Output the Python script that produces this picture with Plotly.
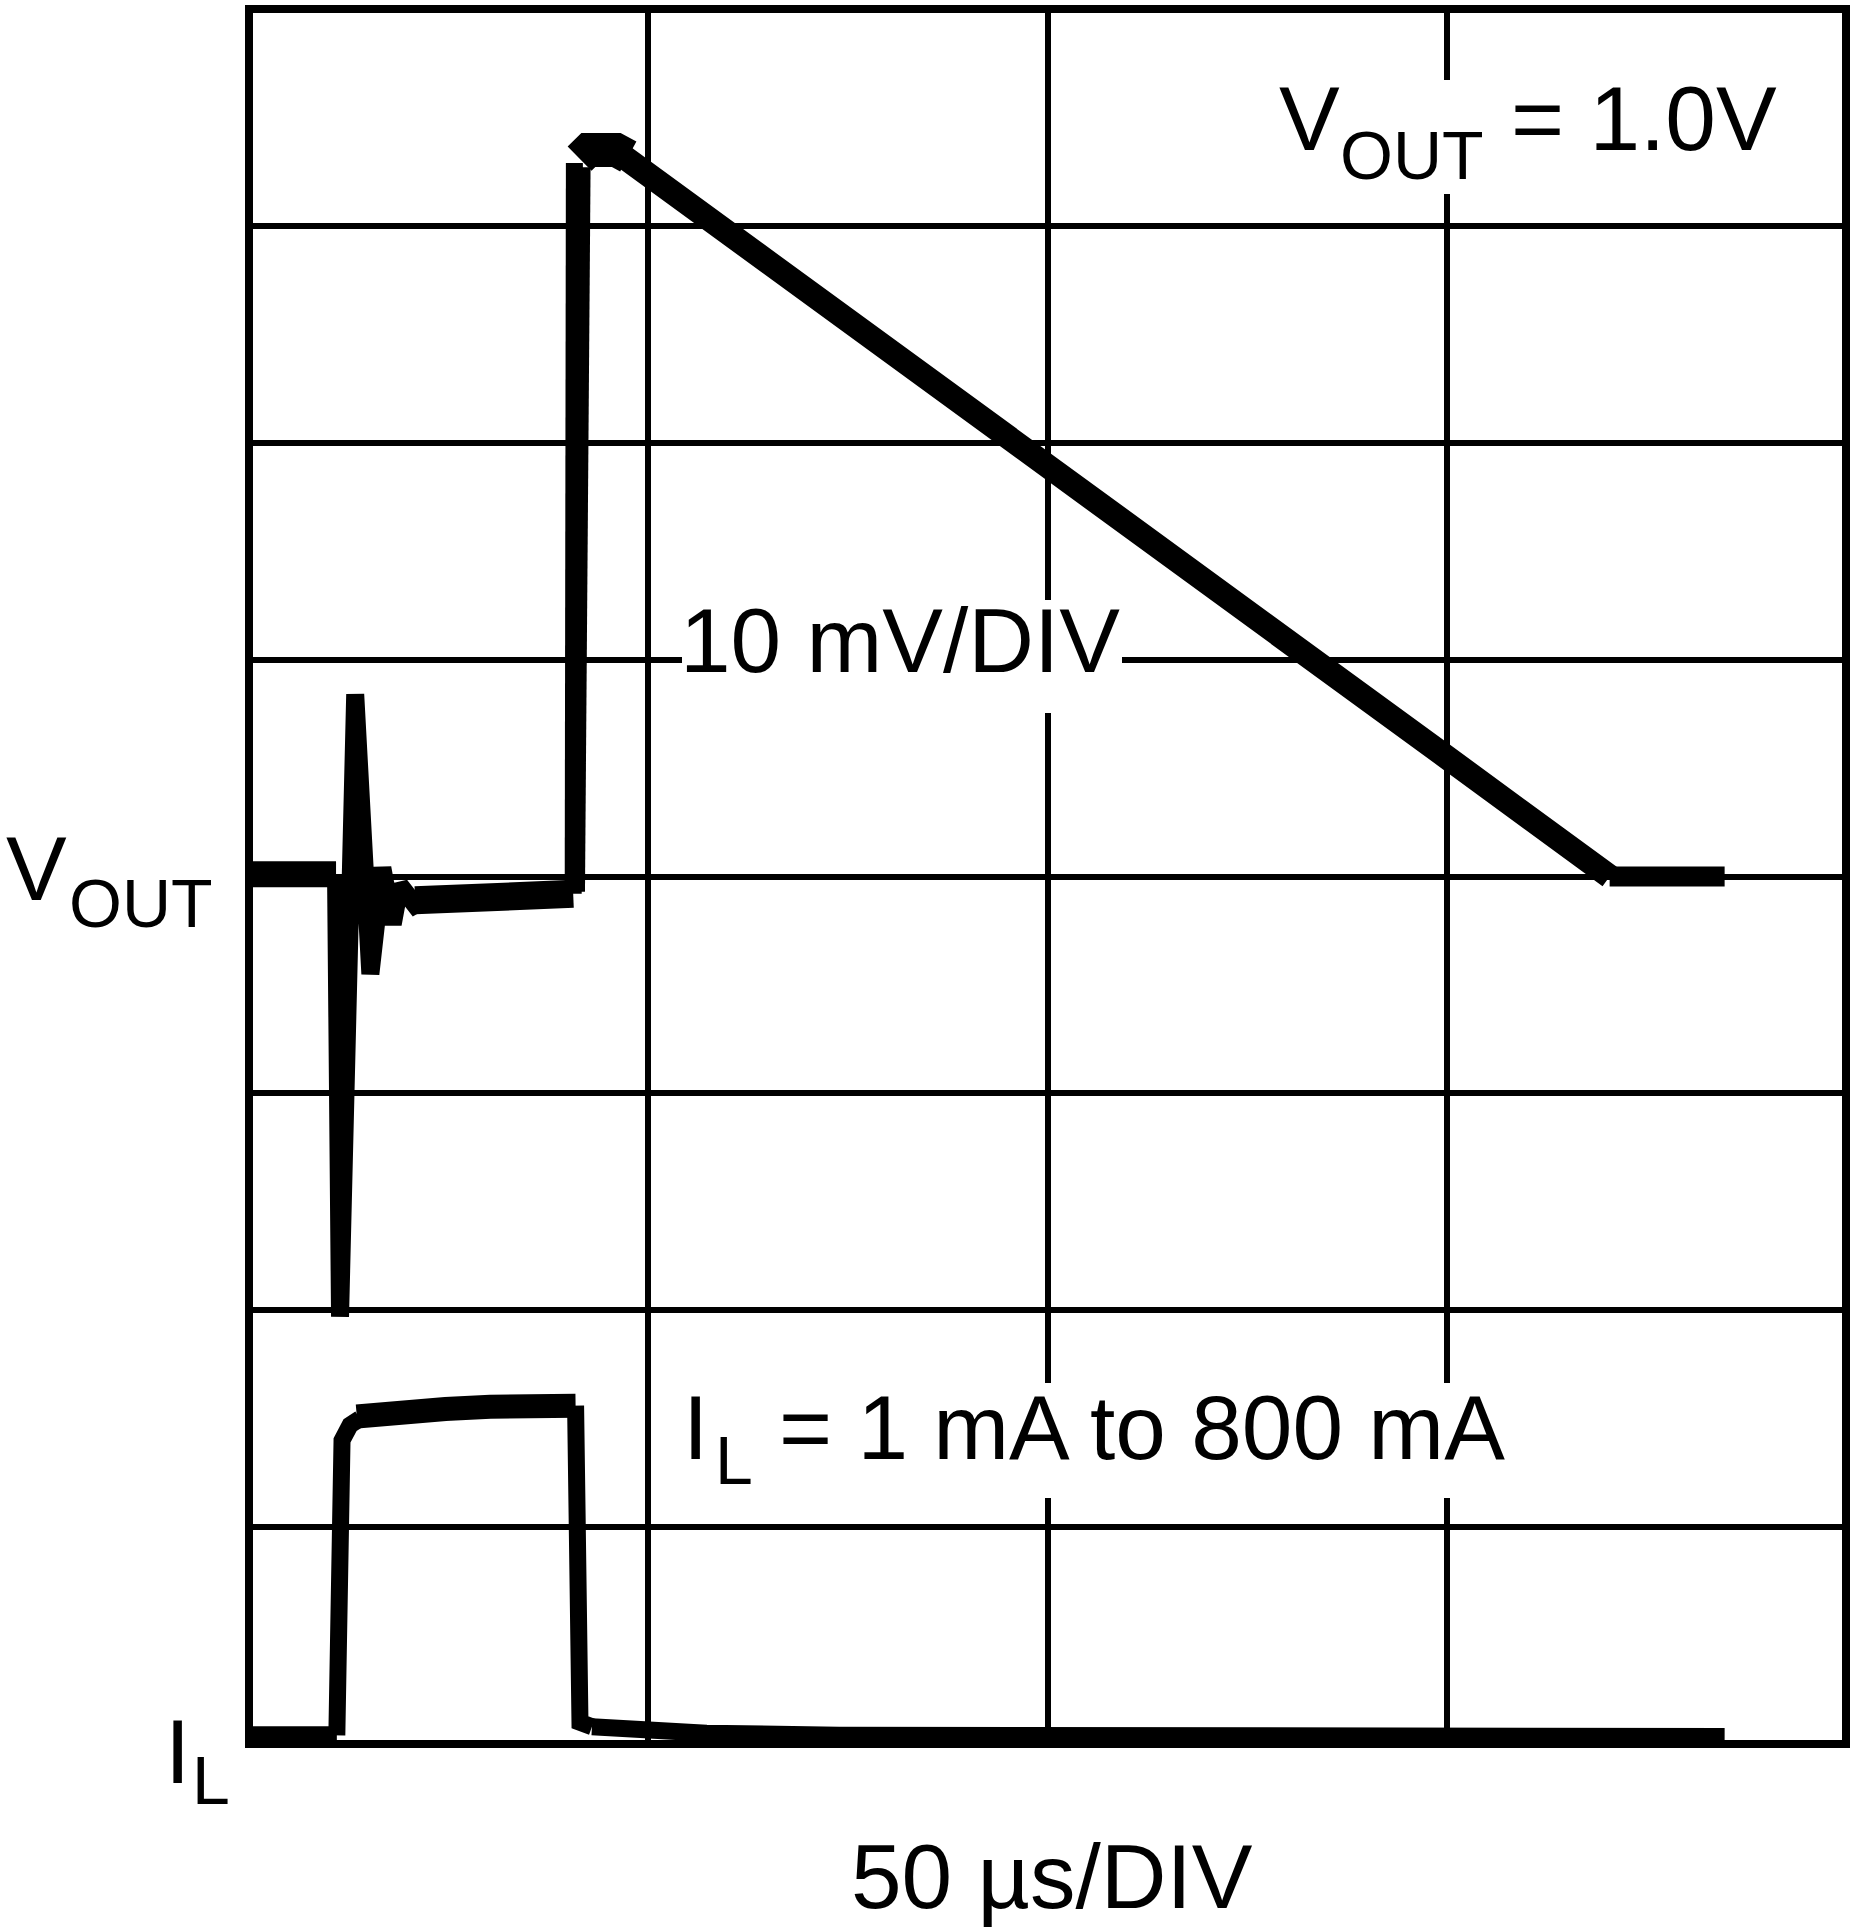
import plotly.graph_objects as go

W, H = 1857, 1929
# plot area (frame centre lines) in page pixels
L, T, R, B = 249, 9, 1846, 1744

FONT = "Liberation Sans, Arial, sans-serif"
BIG = 91
SUB = 68

# ── V_OUT trace: x in µs, y in divisions counted from the bottom ─────────────
vout_base_t = [0, 4, 8, 10.9]
vout_base_v = [4.01, 4.0, 4.02, 4.01]

vout_ring_t = [10.9, 11.4, 13.3, 15.2, 16.7, 18.0, 18.9, 20.8, 22.7]
vout_ring_v = [4.01, 1.97, 4.84, 3.55, 4.04, 3.78, 3.96, 3.87, 3.91]

vout_flat_t = [20.8, 24.6, 30.2, 35.0, 40.6]
vout_flat_v = [3.89, 3.89, 3.90, 3.91, 3.92]

vout_step_t = [40.6, 40.75]
vout_step_v = [3.92, 7.29]

vout_edge_t = [41.2, 41.9]
vout_edge_v = [3.93, 7.27]

vout_peak_t = [41.4, 42.5, 46.0, 47.5]
vout_peak_v = [7.31, 7.35, 7.35, 7.32]

vout_ramp_t = [46.5, 48.0, 52.0, 55.0, 74.0, 100.0, 130.6, 150.0, 170.4]
vout_ramp_v = [7.33, 7.29, 7.18, 7.11, 6.60, 5.90, 5.07, 4.55, 4.00]

vout_tail_t = [170.4, 184.8]
vout_tail_v = [4.00, 4.00]

# ── I_L trace ─────────────────────────────────────────────────────────────────
il_base_t = [0, 11.0]
il_base_v = [0.04, 0.04]

il_rise_t = [11.0, 11.15, 11.65, 12.65, 13.9]
il_rise_v = [0.04, 1.22, 1.40, 1.47, 1.50]

il_top_t = [13.5, 18.0, 24.6, 30.2, 35.0, 40.9]
il_top_v = [1.51, 1.53, 1.545, 1.555, 1.56, 1.56]

il_fall_t = [40.9, 41.0, 41.45, 42.95]
il_fall_v = [1.56, 0.20, 0.10, 0.08]

il_tail_t = [42.95, 48.9, 57.3, 73.9, 100.0, 184.8]
il_tail_v = [0.08, 0.065, 0.05, 0.04, 0.035, 0.035]

segments = [
    (vout_base_t, vout_base_v, 26),
    (vout_ring_t, vout_ring_v, 18),
    (vout_flat_t, vout_flat_v, 28),
    (vout_step_t, vout_step_v, 17),
    (vout_edge_t, vout_edge_v, 14),
    (vout_peak_t, vout_peak_v, 34),
    (vout_ramp_t, vout_ramp_v, 24),
    (vout_tail_t, vout_tail_v, 20),
    (il_base_t, il_base_v, 18),
    (il_rise_t, il_rise_v, 17),
    (il_top_t, il_top_v, 24),
    (il_fall_t, il_fall_v, 17),
    (il_tail_t, il_tail_v, 17),
]

# text pieces: (text, size, left px, baseline px)
labels = [
    ("V", BIG, 1279, 150),
    ("OUT", SUB, 1340, 179),
    ("= 1.0V", BIG, 1511, 150),
    ("10 mV/DIV", BIG, 680, 672),
    ("V", BIG, 6, 900),
    ("OUT", SUB, 69, 927),
    ("I", BIG, 683, 1459),
    ("L", SUB, 715, 1484),
    ("= 1 mA to 800 mA", BIG, 779, 1459),
    ("I", BIG, 165, 1783),
    ("L", SUB, 192, 1804),
    ("50 µs/DIV", BIG, 851, 1908),
]

# white patches that break the graticule behind the labels (px boxes)
gaps = [(1275, 80, 1780, 194), (682, 600, 1122, 713), (688, 1383, 1512, 1498)]


def _px(x, y):
    return (x - L) / (R - L), (B - y) / (B - T)


fig = go.Figure()
for t, v, w in segments:
    fig.add_trace(go.Scatter(
        x=t, y=v, mode="lines",
        line=dict(color="black", width=w),
        hoverinfo="skip", showlegend=False,
    ))

fig.add_shape(type="rect", xref="paper", yref="paper", x0=0, x1=1, y0=0, y1=1,
              line=dict(color="black", width=8), fillcolor="rgba(0,0,0,0)", layer="above")

for x0, y0, x1, y1 in gaps:
    px0, py1 = _px(x0, y0)
    px1, py0 = _px(x1, y1)
    fig.add_shape(type="rect", xref="paper", yref="paper",
                  x0=px0, x1=px1, y0=py0, y1=py1,
                  fillcolor="white", line=dict(width=0), layer="above")

for text, size, left, base in labels:
    ax, ay = _px(left, base - 0.905 * size)
    fig.add_annotation(
        text=text, xref="paper", yref="paper", x=ax, y=ay,
        xanchor="left", yanchor="top", showarrow=False,
        borderpad=0, borderwidth=0,
        font=dict(family=FONT, size=size, color="black"),
    )

axis_style = dict(
    showgrid=True, gridcolor="black", gridwidth=5.5,
    zeroline=False, showticklabels=False, ticks="", showline=False,
    fixedrange=True,
)
fig.update_xaxes(range=[0, 200], tick0=0, dtick=50, **axis_style)
fig.update_yaxes(range=[0, 8], tick0=0, dtick=1, **axis_style)

fig.update_layout(
    width=W, height=H, autosize=False,
    margin=dict(l=L, r=W - R, t=T, b=H - B, pad=0),
    paper_bgcolor="white", plot_bgcolor="white",
    showlegend=False,
    font=dict(family=FONT, color="black"),
)

fig.write_html(
    "out.html",
    config={"displayModeBar": False},
    post_script="document.body.style.margin = '0';",
)
